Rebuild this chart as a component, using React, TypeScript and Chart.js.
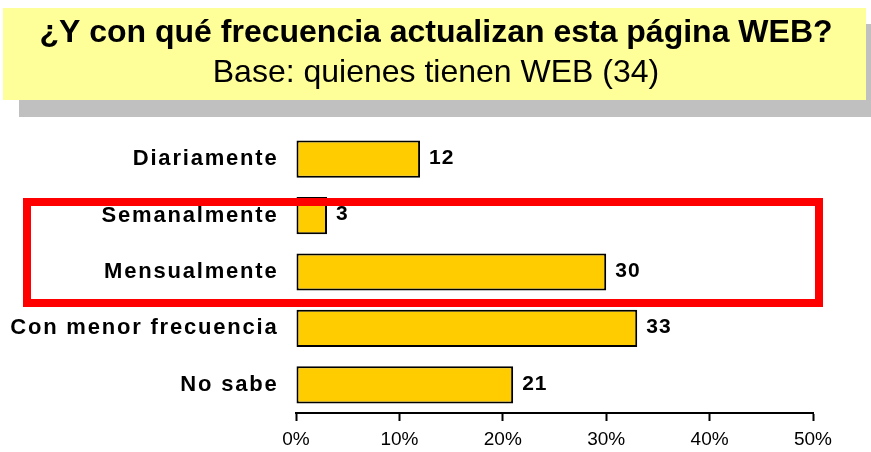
import React, { useEffect, useRef } from "react";
import { Chart, registerables } from "chart.js";

Chart.register(...registerables);

const categories = ["Diariamente", "Semanalmente", "Mensualmente", "Con menor frecuencia", "No sabe"];
const values = [12, 3, 30, 33, 21];
const xTicks = [0, 10, 20, 30, 40, 50];
const titleLine1 = "¿Y con qué frecuencia actualizan esta página WEB?";
const titleLine2 = "Base: quienes tienen WEB (34)";

const FONT = "'Liberation Sans', Arial, sans-serif";

const decorPlugin = {
  id: "decor",
  beforeDraw(chart: any) {
    const ctx = chart.ctx;
    ctx.save();
    ctx.fillStyle = "#ffffff";
    ctx.fillRect(0, 0, chart.width, chart.height);
    // shadow
    ctx.fillStyle = "#C0C0C0";
    ctx.fillRect(19, 24, chart.width - 19, 93);
    // title box
    ctx.fillStyle = "#FFFF99";
    ctx.fillRect(3, 8, 863, 92);
    ctx.fillStyle = "#000000";
    ctx.textAlign = "center";
    ctx.textBaseline = "middle";
    ctx.font = `bold 32px ${FONT}`;
    ctx.fillText(titleLine1, 436, 33);
    ctx.font = `32px ${FONT}`;
    ctx.fillText(titleLine2, 436, 73);
    ctx.restore();
  },
  afterDatasetsDraw(chart: any) {
    const ctx = chart.ctx;
    const yScale = chart.scales.y;
    ctx.save();
    // category labels with letter spacing
    ctx.fillStyle = "#000000";
    ctx.font = `bold 22px ${FONT}`;
    ctx.textAlign = "right";
    ctx.textBaseline = "middle";
    (ctx as any).letterSpacing = "1.8px";
    categories.forEach((c, i) => {
      ctx.fillText(c, 278.5, yScale.getPixelForValue(i));
    });
    // value labels
    const meta = chart.getDatasetMeta(0);
    ctx.textAlign = "left";
    ctx.font = `bold 21px ${FONT}`;
    (ctx as any).letterSpacing = "1px";
    meta.data.forEach((bar: any, i: number) => {
      ctx.fillText(String(values[i]), bar.x + 9, bar.y - 1);
    });
    (ctx as any).letterSpacing = "0px";
    // red highlight frame
    ctx.strokeStyle = "#FF0000";
    ctx.lineWidth = 8;
    ctx.strokeRect(27, 202, 792, 101);
    ctx.restore();
  },
};

export default function App() {
  const ref = useRef<HTMLCanvasElement | null>(null);
  useEffect(() => {
    if (!ref.current) return;
    const chart = new Chart(ref.current, {
      type: "bar",
      data: {
        labels: categories,
        datasets: [
          {
            data: values,
            backgroundColor: "#FFCC00",
            borderColor: "#000000",
            borderWidth: 2,
            borderSkipped: false,
            categoryPercentage: 1,
            barPercentage: 0.66,
          },
        ],
      },
      options: {
        indexAxis: "y",
        animation: false,
        responsive: false,
        events: [],
        layout: { padding: { top: 131, right: 58, bottom: 0, left: 0 } },
        plugins: { legend: { display: false }, tooltip: { enabled: false }, title: { display: false } },
        scales: {
          x: {
            min: 0,
            max: 50,
            afterBuildTicks: (scale: any) => {
              scale.ticks = xTicks.map((v) => ({ value: v }));
            },
            afterFit: (scale: any) => {
              scale.height = 39;
            },
            ticks: {
              callback: (v: any) => `${v}%`,
              color: "#000000",
              font: { family: FONT, size: 19 },
              padding: 7,
              maxRotation: 0,
            },
            grid: {
              drawOnChartArea: false,
              drawTicks: true,
              tickLength: 8,
              tickColor: "#000000",
              tickWidth: 2,
              color: "#000000",
            },
            border: { display: true, color: "#000000", width: 2 },
          },
          y: {
            afterFit: (scale: any) => {
              scale.width = 296;
            },
            ticks: { display: false },
            grid: { display: false },
            border: { display: false },
          },
        },
      },
      plugins: [decorPlugin],
    });
    return () => chart.destroy();
  }, []);
  return (
    <div style={{ position: "absolute", left: 0, top: 0, width: 871, height: 452 }}>
      <canvas ref={ref} width={871} height={452} style={{ display: "block" }} />
    </div>
  );
}
